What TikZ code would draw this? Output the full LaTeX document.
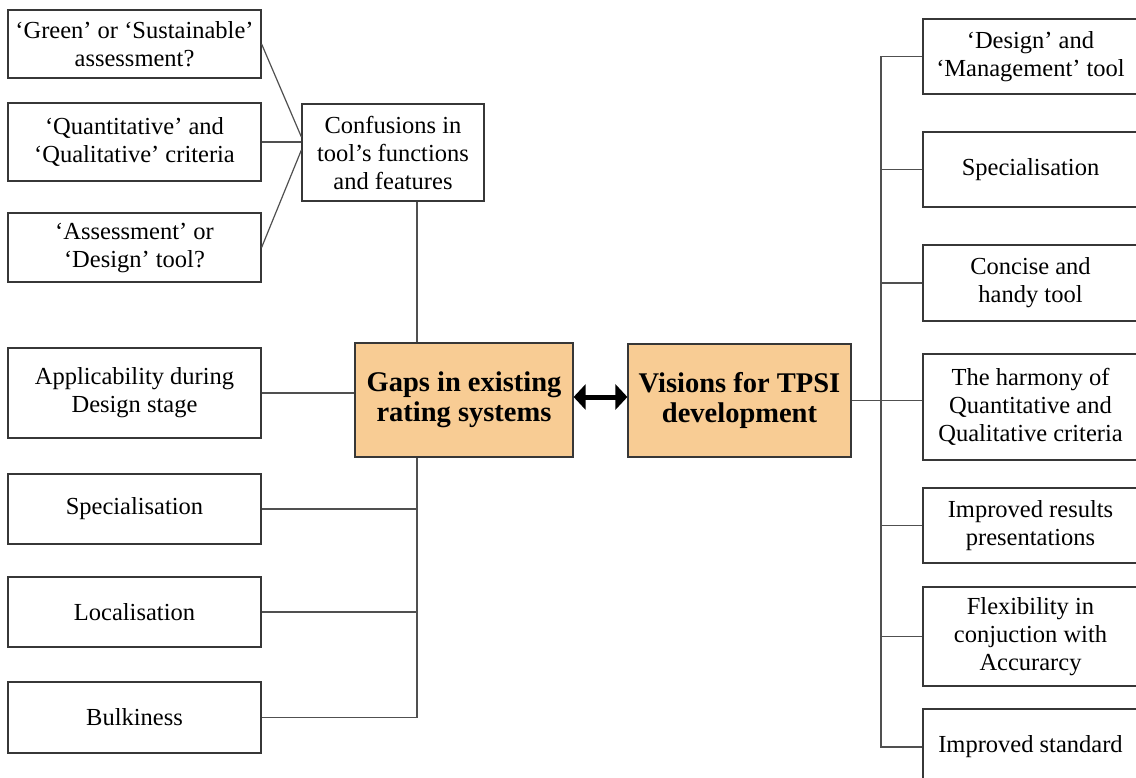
\documentclass[tikz,border=0pt]{standalone}
\usepackage{fontspec}
\setmainfont{Liberation Serif}
\usetikzlibrary{arrows.meta}
\definecolor{boxtan}{RGB}{248,204,148}
\definecolor{edgegray}{RGB}{55,55,55}
\definecolor{wiregray}{RGB}{80,80,80}
\tikzset{
  box/.style={draw=edgegray, line width=1.2pt, fill=white, align=center,
    inner sep=0pt, font=\fontsize{24.5}{28}\selectfont},
  hub/.style={box, fill=boxtan, font=\fontsize{28.5}{30}\selectfont\bfseries},
  wire/.style={draw=wiregray, line width=1.2pt},
  bigarrow/.style={line width=5pt,
    {Triangle[length=12pt,width=25pt]}-{Triangle[length=12pt,width=25pt]}}
}
\begin{document}
\begin{tikzpicture}[x=1pt,y=-1pt]
\useasboundingbox (0,0) rectangle (1136,778);
\fill[white] (0,0) rectangle (1136,778);

% central hubs
\node[hub, minimum width=218pt, minimum height=114pt] (gaps) at (464,400)
  {Gaps in existing\\rating systems};
\node[hub, minimum width=223pt, minimum height=113pt] (visions) at (739.5,400.5)
  {Visions for TPSI\\development};

% left branch: confusions group
\node[box, minimum width=253pt, minimum height=68pt] (green) at (134.5,44)
  {‘Green’ or ‘Sustainable’\\assessment?};
\node[box, minimum width=253pt, minimum height=78pt] (quant) at (134.5,142)
  {‘Quantitative’ and\\‘Qualitative’ criteria};
\node[box, minimum width=253pt, minimum height=69pt] (assess) at (134.5,247.5)
  {‘Assessment’ or\\‘Design’ tool?};
\node[box, minimum width=182pt, minimum height=97pt] (conf) at (393,152.5)
  {Confusions in\\tool’s functions\\and features};

% left branch: other gaps
\node[box, minimum width=253pt, minimum height=90pt] (appl) at (134.5,393)
  {Applicability during\\Design stage};
\node[box, minimum width=253pt, minimum height=70pt] (lspec) at (134.5,509)
  {Specialisation};
\node[box, minimum width=253pt, minimum height=70pt] (loc) at (134.5,612)
  {Localisation};
\node[box, minimum width=253pt, minimum height=71pt] (bulk) at (134.5,717.5)
  {Bulkiness};

% right branch: visions
\node[box, minimum width=215pt, minimum height=75pt] (design) at (1030.5,56.5)
  {‘Design’ and\\‘Management’ tool};
\node[box, minimum width=215pt, minimum height=75pt] (rspec) at (1030.5,169.5)
  {Specialisation};
\node[box, minimum width=215pt, minimum height=76pt] (concise) at (1030.5,283)
  {Concise and\\handy tool};
\node[box, minimum width=215pt, minimum height=106pt] (harmony) at (1030.5,407)
  {The harmony of\\Quantitative and\\Qualitative criteria};
\node[box, minimum width=215pt, minimum height=75pt] (results) at (1030.5,525.5)
  {Improved results\\presentations};
\node[box, minimum width=215pt, minimum height=99pt] (flex) at (1030.5,636.5)
  {Flexibility in\\conjuction with\\Accurarcy};
\node[box, minimum width=215pt, minimum height=76pt] (standard) at (1030.5,747)
  {Improved standard};

% trunk positions
\coordinate (lt) at (417,0);
\coordinate (rt) at (881,0);

% fan into the confusions box
\draw[wire] (green.east) -- ([yshift=15.5pt]conf.west);
\draw[wire] (quant.east) -- (quant.east -| conf.west);
\draw[wire] (assess.east) -- ([yshift=2.5pt]conf.west);
\draw[wire] (conf.south -| lt) -- (gaps.north -| lt);

% left trunk
\draw[wire] (appl.east) -- (appl.east -| gaps.west);
\draw[wire] (gaps.south -| lt) |- (bulk.east);
\draw[wire] (lspec.east) -- (lspec.east -| lt);
\draw[wire] (loc.east) -- (loc.east -| lt);

% right trunk
\draw[wire] (design.west) -| (rt |- standard.west) -- (standard.west);
\draw[wire] (visions.east) -- (visions.east -| harmony.west);
\draw[wire] (rspec.west) -- (rspec.west -| rt);
\draw[wire] (concise.west) -- (concise.west -| rt);
\draw[wire] (results.west) -- (results.west -| rt);
\draw[wire] (flex.west) -- (flex.west -| rt);

% link between the hubs
\draw[bigarrow] ([yshift=3pt]gaps.east) -- ([yshift=3pt]gaps.east -| visions.west);
\end{tikzpicture}
\end{document}
